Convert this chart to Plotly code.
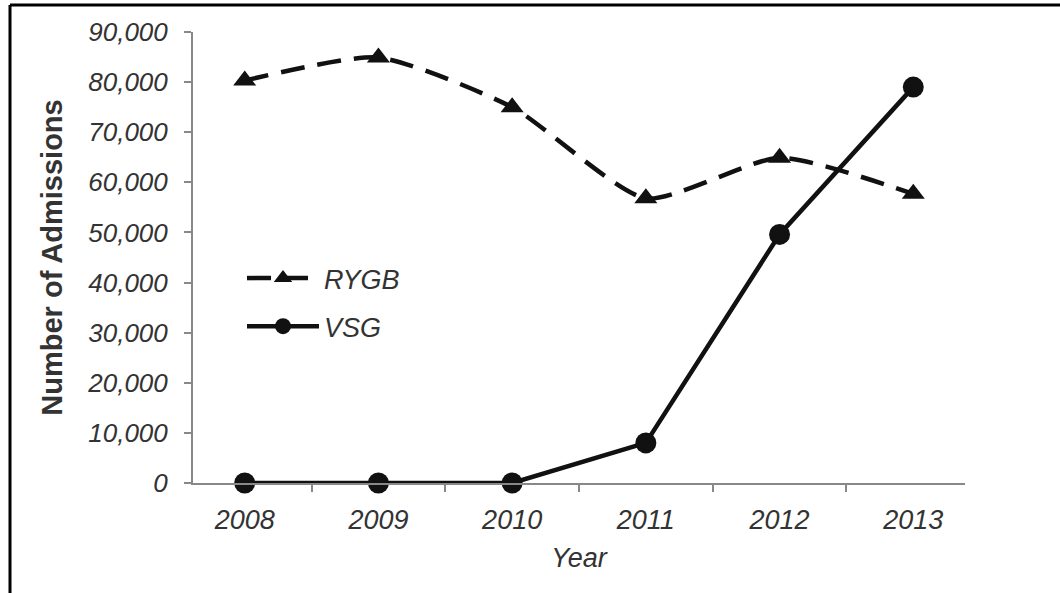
import plotly.graph_objects as go

years = ["2008", "2009", "2010", "2011", "2012", "2013"]
rygb = [80300, 84900, 75000, 56800, 64900, 57700]
vsg = [0, 0, 0, 8000, 49600, 79000]
y_ticks = [0, 10000, 20000, 30000, 40000, 50000, 60000, 70000, 80000, 90000]

FONT = "Liberation Sans, Arial, sans-serif"
INK = "#111111"
TXT = "#333333"

# plot area target on screen: x 193..965, y 32..483 (body margin removed)
L, T, W, H = 193, 32, 772, 451

fig = go.Figure()
fig.add_trace(go.Scatter(
    x=years, y=rygb, name="RYGB", mode="lines+markers",
    line=dict(color=INK, width=4.5, dash="24px,13px", shape="spline", smoothing=0.6),
    marker=dict(symbol="triangle-up", size=20, color=INK),
    legendgroup="a", cliponaxis=False,
))
fig.add_trace(go.Scatter(
    x=years, y=vsg, name="VSG", mode="lines+markers",
    line=dict(color=INK, width=4.5),
    marker=dict(symbol="circle", size=21, color=INK),
    legendgroup="b", cliponaxis=False,
))

fig.update_layout(
    width=1060, height=593,
    margin=dict(l=L, r=1060 - L - W, t=T, b=593 - T - H, autoexpand=False),
    paper_bgcolor="white", plot_bgcolor="white",
    font=dict(family=FONT, color=TXT, size=26),
    showlegend=True,
    legend=dict(
        x=(242 - 193) / W, y=(483 - 254) / H, xanchor="left", yanchor="top",
        font=dict(size=27, style="italic", color=TXT),
        bgcolor="rgba(0,0,0,0)", tracegroupgap=10,
        traceorder="grouped", itemwidth=72,
    ),
    xaxis=dict(
        type="category", tickson="boundaries", automargin=False,
        showline=True, linecolor="#888888", linewidth=2,
        ticks="outside", ticklen=7, tickcolor="#888888", tickwidth=2,
        showgrid=False, zeroline=False, ticklabelstandoff=12,
        tickfont=dict(size=27, style="italic", color=TXT),
        title=dict(text="Year", font=dict(size=27, style="italic", color=TXT), standoff=14),
    ),
    yaxis=dict(
        range=[0, 90000], tickvals=y_ticks, tickformat=",d", automargin=False,
        showline=True, linecolor="#888888", linewidth=2,
        ticks="outside", ticklen=7, tickcolor="#888888", tickwidth=2,
        showgrid=False, zeroline=False, ticklabelstandoff=11,
        tickfont=dict(size=26, style="italic", color=TXT),
        title=dict(text="Number of Admissions",
                   font=dict(size=29, weight="bold", color=TXT), standoff=16),
    ),
)

# outer frame (top and left edges only); screen targets x=10, y=5
fx = (10 - L) / W
fy = 1 + (T - 5) / H
fig.add_shape(type="line", xref="paper", yref="paper",
              x0=fx, x1=(1080 - L) / W, y0=fy, y1=fy,
              line=dict(color="black", width=3))
fig.add_shape(type="line", xref="paper", yref="paper",
              x0=fx, x1=fx, y0=fy, y1=(T + H - 620) / H,
              line=dict(color="black", width=3))

fig.write_html("out.html", config={"displayModeBar": False},
               post_script="document.body.style.margin='0';")
